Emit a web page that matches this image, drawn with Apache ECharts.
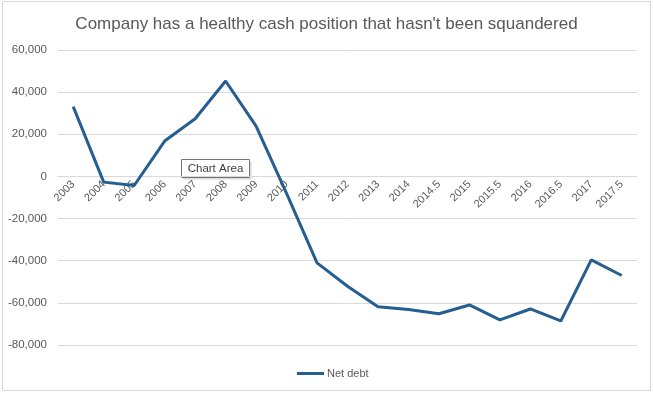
<!DOCTYPE html>
<html>
<head>
<meta charset="utf-8">
<script src="https://cdn.jsdelivr.net/npm/echarts@6/dist/echarts.min.js"></script>
<style>
html,body{margin:0;padding:0;background:#fff;}
#c{width:653px;height:393px;}
</style>
</head>
<body>
<div id="c"></div>
<script>
const categories = ['2003','2004','2005','2006','2007','2008','2009','2010','2011','2012','2013','2014','2014.5','2015','2015.5','2016','2016.5','2017','2017.5'];
const netDebt = [33100,-2700,-4300,16800,27400,45300,23900,-8000,-41000,-52100,-61900,-63200,-65200,-61000,-68100,-62900,-68600,-39600,-47000];
const yTicks = {min:-80000, max:60000, interval:20000};

const FONT = '"Liberation Sans", "DejaVu Sans", sans-serif';
const GRID_TOP = 50, GRID_BOTTOM = 48, H = 393;
const plotH = H - GRID_TOP - GRID_BOTTOM;
const zeroOffset = -plotH * (0 - yTicks.min) / (yTicks.max - yTicks.min);

const chart = echarts.init(document.getElementById('c'), null, {renderer:'canvas'});
chart.setOption({
  animation:false,
  backgroundColor:'#ffffff',
  title:{
    text:'Company has a healthy cash position that hasn\'t been squandered',
    left:'center', top:11,
    textStyle:{fontFamily:FONT, fontSize:17, fontWeight:'normal', color:'#595959'}
  },
  grid:{left:58, right:16, top:GRID_TOP, bottom:GRID_BOTTOM},
  legend:{
    data:['Net debt'], left:292, top:363,
    icon:'rect', itemWidth:27, itemHeight:3, itemGap:4,
    textStyle:{fontFamily:FONT, fontSize:11, color:'#595959', padding:[0,0,0,-2]}
  },
  xAxis:{
    type:'category', data:categories, boundaryGap:true, position:'bottom',
    offset: zeroOffset,
    axisLine:{show:true, onZero:false, lineStyle:{color:'#d9d9d9', width:1}},
    axisTick:{show:false},
    axisLabel:{rotate:45, interval:0, margin:6, fontFamily:FONT, fontSize:11, color:'#595959'}
  },
  yAxis:{
    type:'value', min:yTicks.min, max:yTicks.max, interval:yTicks.interval,
    axisLine:{show:false}, axisTick:{show:false},
    splitLine:{lineStyle:{color:'#d9d9d9', width:1}},
    axisLabel:{margin:11, fontFamily:FONT, fontSize:11.5, color:'#595959',
      formatter:function(v){return v.toLocaleString('en-US');}}
  },
  series:[{
    name:'Net debt', type:'line', data:netDebt, symbol:'none',
    lineStyle:{color:'#255E91', width:3}, itemStyle:{color:'#255E91'}
  }],
  graphic:[
    {type:'rect', shape:{x:2.5,y:1.5,width:648,height:389}, style:{fill:null, stroke:'#d9d9d9', lineWidth:1}, silent:true, z:-1},
    {type:'group', left:181, top:159, children:[
      {type:'rect', shape:{x:2,y:2,width:68,height:18}, style:{fill:'rgba(0,0,0,0.15)'}},
      {type:'rect', shape:{x:0,y:0,width:68,height:18}, style:{fill:'#ffffff', stroke:'#767676', lineWidth:1}},
      {type:'text', style:{x:34, y:9, text:'Chart Area', align:'center', verticalAlign:'middle', font:'11.5px '+FONT, fill:'#404040'}}
    ]}
  ]
});
</script>
</body>
</html>
